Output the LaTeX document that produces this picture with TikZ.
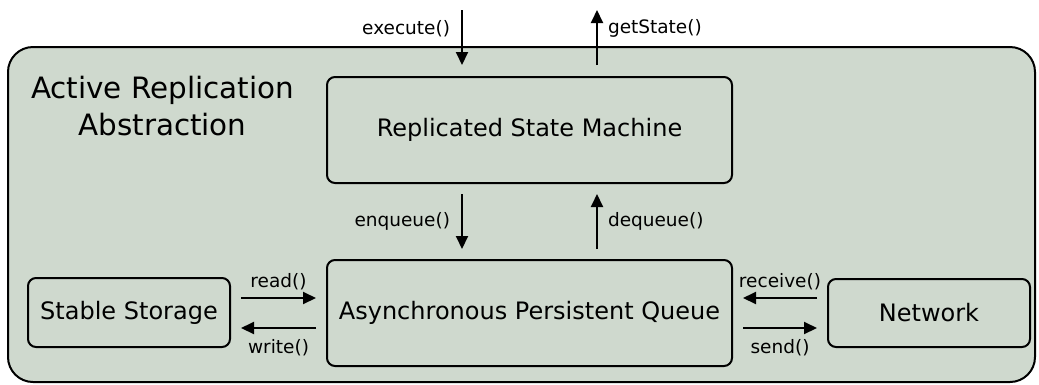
\documentclass[tikz,border=0pt]{standalone}
\usepackage{fontspec}
\setmainfont{DejaVu Sans}
\usetikzlibrary{arrows.meta}
\definecolor{abstrfill}{RGB}{207,217,206}

\begin{document}
\begin{tikzpicture}
[x=1pt,y=-1pt,
 component/.style={draw,rounded corners=8,line width=2pt,inner sep=0pt,
   font=\fontsize{24}{28}\selectfont},
 lbl/.style={inner sep=0pt,font=\fontsize{18.5}{22}\selectfont},
 call/.style={line width=2pt,-{Triangle[length=13pt,width=12pt]},
   shorten <=10pt,shorten >=10pt}]
\useasboundingbox (0,0) rectangle (1039,384);
%% the abstraction itself
\node[draw,fill=abstrfill,line width=2pt,rounded corners=25,
  minimum width=1027pt,minimum height=335pt] (abs) at (521.5,214.5) {};
\node[align=center,anchor=base,inner sep=0pt,
  font=\fontsize{29.4}{37}\selectfont] (title) at (162.5,135)
  {Active Replication\\Abstraction};
%% components
\node[component,minimum width=405pt,minimum height=106pt] (rsm) at (529.5,130)
  {Replicated State Machine};
\node[component,minimum width=405pt,minimum height=106pt] (apq) at (529.5,313)
  {Asynchronous Persistent Queue};
\node[component,minimum width=202pt,minimum height=69pt] (ss) at (129,312.5)
  {Stable Storage};
\node[component,minimum width=202pt,minimum height=68pt] (net) at (929,313)
  {Network};
%% calls into and out of the state machine
\coordinate (execin) at (462,10);
\coordinate (stateout) at (597,10);
\draw[call,shorten <=0pt,shorten >=11pt] (execin) --
  node[lbl,pos=0.28,left=11pt] (execlbl) {execute()} (execin |- rsm.north);
\draw[call,shorten <=11pt,shorten >=0pt] (stateout |- rsm.north) --
  node[lbl,pos=0.72,right=10pt] (statelbl) {getState()} (stateout);
\draw[call] ([xshift=-67.5pt]rsm.south) --
  node[lbl,left=11pt] (enqlbl) {enqueue()} ([xshift=-67.5pt]apq.north);
\draw[call] ([xshift=67.5pt]apq.north) --
  node[lbl,right=10pt] (deqlbl) {dequeue()} ([xshift=67.5pt]rsm.south);
%% storage and network
\coordinate (rdin) at ([yshift=15pt]apq.west);
\coordinate (wrout) at ([yshift=-15pt]apq.west);
\coordinate (rcvin) at ([yshift=15pt]apq.east);
\coordinate (sndout) at ([yshift=-15pt]apq.east);
\draw[call] (rdin -| ss.east) -- node[lbl,above=7pt] (rdlbl) {read()} (rdin);
\draw[call] (wrout) -- node[lbl,below=10pt] (wrlbl) {write()} (wrout -| ss.east);
\draw[call] (rcvin -| net.west) -- node[lbl,above=7pt] (rcvlbl) {receive()} (rcvin);
\draw[call] (sndout) -- node[lbl,below=10pt] (sndlbl) {send()} (sndout -| net.west);
\end{tikzpicture}
\end{document}
